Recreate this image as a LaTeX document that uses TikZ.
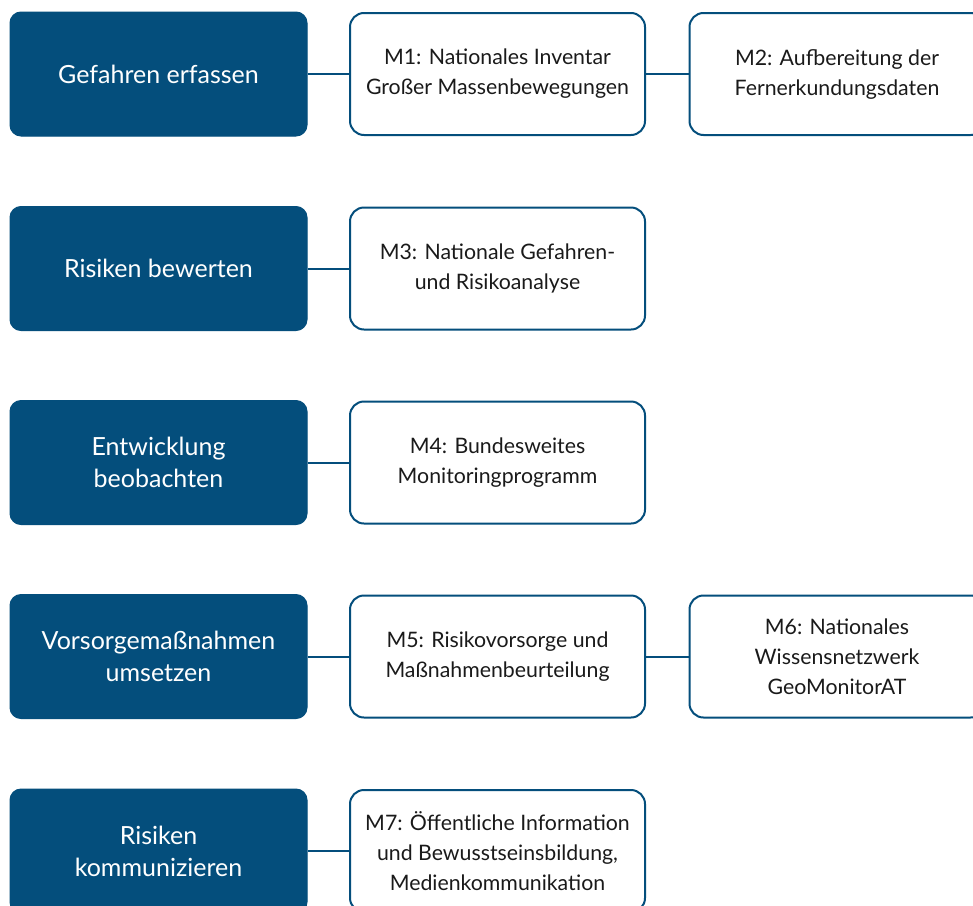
\documentclass[tikz,border=0pt]{standalone}
\usepackage{fontspec}
\setmainfont{Lato}
\definecolor{navy}{HTML}{044E7C}
\definecolor{ink}{HTML}{1A1A1A}
\begin{document}
\begin{tikzpicture}[x=1pt,y=-1pt,
  catbox/.style={draw=navy,fill=navy,line width=1pt,rounded corners=11pt,minimum width=297pt,minimum height=124pt,text=white,align=center,font=\fontsize{25}{32}\selectfont,inner sep=0pt},
  mbox/.style={draw=navy,fill=white,line width=2pt,rounded corners=14pt,minimum width=295pt,minimum height=122pt,text=ink,align=center,font=\fontsize{21.3}{30}\selectfont,inner sep=0pt},
  link/.style={draw=navy,line width=2pt}]
\useasboundingbox (0,0) rectangle (973,905);
\clip (0,0) rectangle (973,905);
\fill[white] (0,0) rectangle (973,905);
% row 1
\node[catbox] (c1) at (158.5,74) {Gefahren erfassen};
\node[mbox] (m1) at (497.5,74) {M1: Nationales Inventar\\Großer Massenbewegungen};
\node[mbox] (m2) at (837,74) {M2: Aufbereitung der\\Fernerkundungsdaten};
% row 2
\node[catbox] (c2) at (158.5,268.5) {Risiken bewerten};
\node[mbox] (m3) at (497.5,268.5) {M3: Nationale Gefahren-\\und Risikoanalyse};
% row 3
\node[catbox] (c3) at (158.5,462.5) {Entwicklung\\beobachten};
\node[mbox] (m4) at (497.5,462.5) {M4: Bundesweites\\Monitoringprogramm};
% row 4
\node[catbox] (c4) at (158.5,656.5) {Vorsorgemaßnahmen\\umsetzen};
\node[mbox] (m5) at (497.5,656.5) {M5: Risikovorsorge und\\Maßnahmenbeurteilung};
\node[mbox] (m6) at (837,656.5) {M6: Nationales\\Wissensnetzwerk\\GeoMonitorAT};
% row 5
\node[catbox] (c5) at (158.5,851) {Risiken\\kommunizieren};
\node[mbox] (m7) at (497.5,851) {M7: Öffentliche Information\\und Bewusstseinsbildung,\\Medienkommunikation};
% links
\draw[link] (c1) -- (m1);
\draw[link] (m1) -- (m2);
\draw[link] (c2) -- (m3);
\draw[link] (c3) -- (m4);
\draw[link] (c4) -- (m5);
\draw[link] (m5) -- (m6);
\draw[link] (c5) -- (m7);
\end{tikzpicture}
\end{document}
